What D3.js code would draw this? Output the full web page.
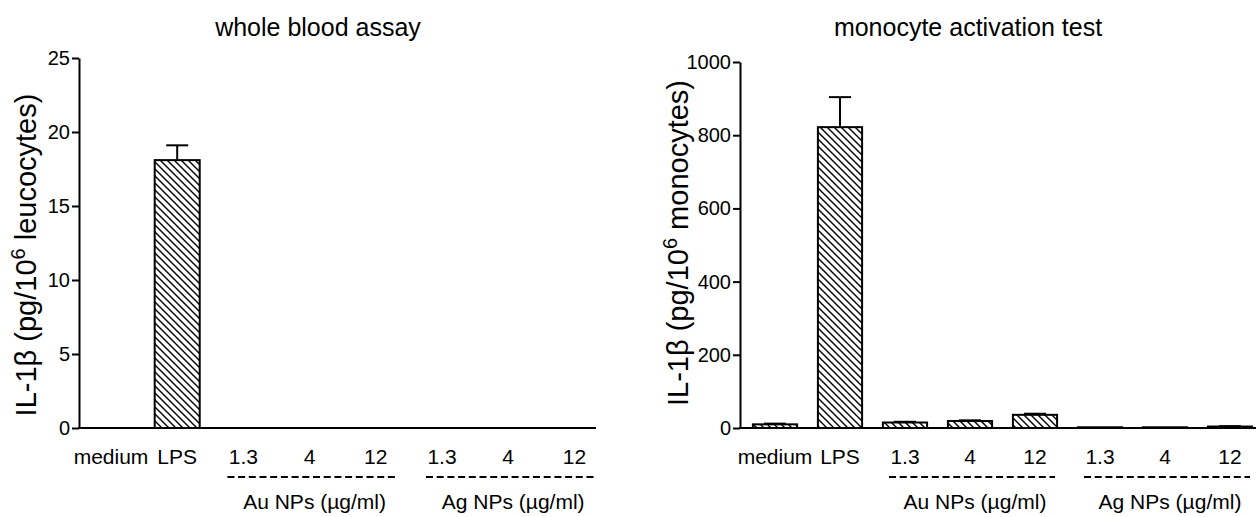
<!DOCTYPE html>
<html>
<head>
<meta charset="utf-8">
<script src="https://cdn.jsdelivr.net/npm/d3@7"></script>
<style>
  body { margin: 0; background: #fff; }
  svg { display: block; font-family: "Liberation Sans", Arial, sans-serif; }
  .axis path, .axis line { stroke: #000; stroke-width: 2; }
  .axis text { font-size: 20px; fill: #000; }
</style>
</head>
<body>
<svg id="chart" width="1256" height="517"></svg>
<script>
// categories on the x axis (same for both panels)
var categories = ['medium', 'LPS', 'Au 1.3', 'Au 4', 'Au 12', 'Ag 1.3', 'Ag 4', 'Ag 12'];
var categoryLabels = ['medium', 'LPS', '1.3', '4', '12', '1.3', '4', '12'];

// whole blood assay, IL-1b pg/10^6 leucocytes
var wbaMeans = [0, 18.1, 0, 0, 0, 0, 0, 0];
var wbaErrors = [0, 1.0, 0, 0, 0, 0, 0, 0];
var wbaTicks = [0, 5, 10, 15, 20, 25];

// monocyte activation test, IL-1b pg/10^6 monocytes
var matMeans = [10, 822, 15, 19, 36, 2, 2, 4];
var matErrors = [2, 82, 2, 2, 3, 0, 0, 1];
var matTicks = [0, 200, 400, 600, 800, 1000];

var groupNames = ['Au NPs (\u00b5g/ml)', 'Ag NPs (\u00b5g/ml)'];
var groupMembers = [['Au 1.3', 'Au 4', 'Au 12'], ['Ag 1.3', 'Ag 4', 'Ag 12']];

var svg = d3.select('#chart');

var defs = svg.append('defs');
defs.append('pattern')
	.attr('id', 'hatch')
	.attr('patternUnits', 'userSpaceOnUse')
	.attr('width', 7).attr('height', 7)
	.append('path')
	.attr('d', 'M-1,-1 L8,8 M-1,6 L1,8 M6,-1 L8,1')
	.style('stroke', '#000')
	.style('stroke-width', 1.4);

var drawPanel = function (opt) {
	var g = svg.append('g').attr('class', 'panel');
	var y = d3.scaleLinear().domain([0, opt.ticks[opt.ticks.length - 1]]).range([428, opt.yTop]);
	var x = d3.scaleBand().domain(categories).range(opt.xrange).paddingInner(0.32).paddingOuter(0.16);
	var bw = x.bandwidth();

	// title
	g.append('text')
		.attr('x', opt.titleX).attr('y', 36)
		.attr('text-anchor', 'middle')
		.style('font-size', '25px')
		.text(opt.title);

	// y axis
	g.append('g').attr('class', 'axis')
		.attr('transform', 'translate(' + opt.axisX + ',0)')
		.call(d3.axisLeft(y).tickValues(opt.ticks).tickSize(7).tickSizeOuter(0).tickPadding(2).tickFormat(d3.format('d')));

	// y label
	var yl = g.append('text')
		.attr('transform', 'translate(' + opt.labelX + ',' + opt.labelY + ') rotate(-90)')
		.attr('text-anchor', 'middle')
		.style('font-size', '29px');
	yl.append('tspan').text('IL-1\u03b2 (pg/10');
	yl.append('tspan').attr('dy', -11).style('font-size', '20px').text('6');
	yl.append('tspan').attr('dy', 11).text(' ' + opt.unit + ')');

	// bars
	var rows = categories.map(function (c, i) { return {name: c, value: opt.means[i], err: opt.errors[i]}; });
	var bars = g.selectAll('g.bar').data(rows).enter().append('g').attr('class', 'bar');
	bars.filter(function (d) { return d.value > 0; }).append('rect')
		.attr('x', function (d) { return x(d.name); })
		.attr('y', function (d) { return y(d.value); })
		.attr('width', bw)
		.attr('height', function (d) { return y(0) - y(d.value); })
		.style('fill', 'url(#hatch)')
		.style('stroke', '#000')
		.style('stroke-width', 2);

	var errs = bars.filter(function (d) { return d.err > 0; });
	errs.append('line')
		.attr('x1', function (d) { return x(d.name) + bw / 2; })
		.attr('x2', function (d) { return x(d.name) + bw / 2; })
		.attr('y1', function (d) { return y(d.value); })
		.attr('y2', function (d) { return y(d.value + d.err); })
		.style('stroke', '#000').style('stroke-width', 2);
	errs.append('line')
		.attr('x1', function (d) { return x(d.name) + bw / 2 - 11; })
		.attr('x2', function (d) { return x(d.name) + bw / 2 + 11; })
		.attr('y1', function (d) { return y(d.value + d.err); })
		.attr('y2', function (d) { return y(d.value + d.err); })
		.style('stroke', '#000').style('stroke-width', 2);

	// baseline
	g.append('line')
		.attr('x1', opt.axisX - 1).attr('x2', opt.baseEnd)
		.attr('y1', y(0)).attr('y2', y(0))
		.style('stroke', '#000').style('stroke-width', 2);

	// category labels
	g.selectAll('text.cat').data(categories).enter().append('text')
		.attr('class', 'cat')
		.attr('x', function (d) { return x(d) + bw / 2; })
		.attr('y', 464)
		.attr('text-anchor', 'middle')
		.style('font-size', '21px')
		.text(function (d, i) { return categoryLabels[i]; });

	// group brackets and names
	groupMembers.forEach(function (m, i) {
		var c0 = x(m[0]) + bw / 2, c1 = x(m[m.length - 1]) + bw / 2, cm = x(m[1]) + bw / 2;
		g.append('line')
			.attr('x1', c0 - 16).attr('x2', c1 + 20)
			.attr('y1', 477).attr('y2', 477)
			.style('stroke', '#000').style('stroke-width', 2)
			.style('stroke-dasharray', '7,3.7');
		g.append('text')
			.attr('x', cm + 5).attr('y', 509)
			.attr('text-anchor', 'middle')
			.style('font-size', '21px')
			.text(groupNames[i]);
	});
};

drawPanel({name: 'wba', title: 'whole blood assay', unit: 'leucocytes', means: wbaMeans, errors: wbaErrors, ticks: wbaTicks,
	yTop: 58, axisX: 79, xrange: [77.9, 607.5], baseEnd: 596, titleX: 318, labelX: 36, labelY: 255});
drawPanel({name: 'mat', title: 'monocyte activation test', unit: 'monocytes', means: matMeans, errors: matErrors, ticks: matTicks,
	yTop: 62, axisX: 740, xrange: [742.5, 1262.5], baseEnd: 1256, titleX: 968, labelX: 688, labelY: 243});
</script>
</body>
</html>
